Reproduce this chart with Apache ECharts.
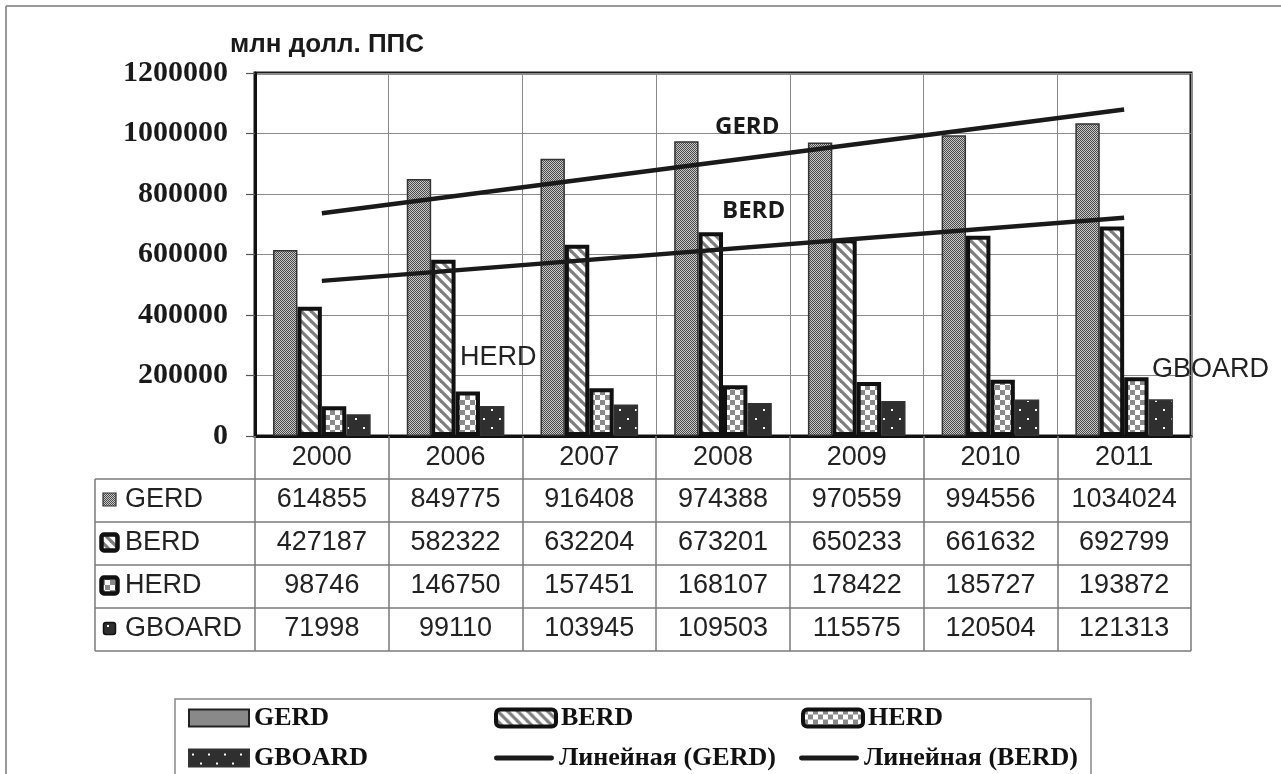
<!DOCTYPE html>
<html><head><meta charset="utf-8">
<script src="https://cdn.jsdelivr.net/npm/echarts@6/dist/echarts.min.js"></script>
<style>html,body{margin:0;padding:0;background:#fff}#c{width:1281px;height:774px}</style>
</head><body><div id="c"></div>
<script>
// ---- data ----
const categories = ['2000','2006','2007','2008','2009','2010','2011'];
const gerd   = [614855, 849775, 916408, 974388, 970559, 994556, 1034024];
const berd   = [427187, 582322, 632204, 673201, 650233, 661632, 692799];
const herd   = [98746, 146750, 157451, 168107, 178422, 185727, 193872];
const gboard = [71998, 99110, 103945, 109503, 115575, 120504, 121313];
// linear trend lines: endpoints
const gerdTrend = [736200, null, null, null, null, null, 1079400];
const berdTrend = [512800, null, null, null, null, null, 721400];
const barNames = ['GERD','BERD','HERD','GBOARD'];
const trendNames = ['Линейная (GERD)','Линейная (BERD)'];
const yUnit = 'млн долл. ППС';

// ---- patterns ----
function makeCanvas(w,h,draw){const c=document.createElement('canvas');c.width=w;c.height=h;draw(c.getContext('2d'));return c;}
const patGerd = makeCanvas(2,2,g=>{g.fillStyle='#c8c8c8';g.fillRect(0,0,2,2);g.fillStyle='#4a4a4a';g.fillRect(0,0,1,1);g.fillRect(1,1,1,1);});
const patBerd = makeCanvas(10,10,g=>{g.fillStyle='#fff';g.fillRect(0,0,10,10);g.strokeStyle='#7e7e7e';g.lineWidth=3.2;
  for(let k=-10;k<=10;k+=10){g.beginPath();g.moveTo(k-2,-2);g.lineTo(k+12,12);g.stroke();}});
const patHerd = makeCanvas(10,10,g=>{g.fillStyle='#fff';g.fillRect(0,0,10,10);g.fillStyle='#8a8a8a';g.fillRect(0,0,5,5);g.fillRect(5,5,5,5);});
const patGboard = makeCanvas(16,18,g=>{g.fillStyle='#2f2f2f';g.fillRect(0,0,16,18);g.fillStyle='#fff';g.fillRect(3,4,2,2);g.fillRect(11,13,2,2);});
const P = c => ({image:c, repeat:'repeat'});
const fills = [P(patGerd), P(patBerd), P(patHerd), P(patGboard)];
const borders = [['#333',1.5],['#111',4],['#111',4],['#333',1.5]];
const barData = [gerd, berd, herd, gboard];

const chart = echarts.init(document.getElementById('c'), null, {renderer:'canvas'});
const sans = '"Liberation Sans", Arial, sans-serif';
const serif = '"Liberation Serif", "Times New Roman", serif';

const series = barNames.map((n,i)=>({
  type:'bar', name:n, data:barData[i], barGap:'0%', barCategoryGap:'27%',
  itemStyle:{color:fills[i], borderColor:borders[i][0], borderWidth:borders[i][1]},
  emphasis:{disabled:true}, z:2
}));
[gerdTrend, berdTrend].forEach((d,i)=>series.push({
  type:'line', name:trendNames[i], data:d, connectNulls:true, symbol:'none',
  lineStyle:{color:'#1a1a1a', width:4.5}, itemStyle:{color:'#1a1a1a'}, z:5
}));

const lineIcon = 'path://M2,0H58A2.5,2.5 0 0 1 58,5H2A2.5,2.5 0 0 1 2,0Z';
const option = {
  animation:false,
  backgroundColor:'#fff',
  grid:{left:255, right:90, top:73, bottom:338, show:true, borderColor:'#1a1a1a', borderWidth:3},
  xAxis:{type:'category', data:categories,
    axisLine:{lineStyle:{color:'#111', width:3}},
    axisTick:{show:true, interval:0, length:215, lineStyle:{color:'#7a7a7a', width:1.5}},
    axisLabel:{interval:0, fontSize:27, fontFamily:sans, color:'#222', margin:8},
    splitLine:{show:true, interval:0, lineStyle:{color:'#8a8a8a', width:1}}},
  yAxis:{type:'value', min:0, max:1200000, interval:200000,
    axisLine:{show:true, lineStyle:{color:'#111', width:3}},
    axisTick:{show:true, length:9, lineStyle:{color:'#555', width:1.2}},
    axisLabel:{fontSize:30, fontFamily:serif, fontWeight:'bold', color:'#1a1a1a', margin:27, formatter:v=>String(v)},
    splitLine:{show:true, lineStyle:{color:'#8a8a8a', width:1}}},
  legend:{data:[
      {name:'GERD', icon:'rect', itemStyle:{borderColor:'#222', borderWidth:2}},
      {name:'BERD', itemStyle:{borderColor:'#111', borderWidth:4}},
      {name:'HERD', itemStyle:{borderColor:'#111', borderWidth:4}},
      {name:'GBOARD', icon:'rect'},
      {name:trendNames[0], icon:lineIcon},
      {name:trendNames[1], icon:lineIcon}],
    left:188, top:698, width:930, orient:'horizontal', padding:0,
    itemWidth:60, itemHeight:17, itemGap:0, selectedMode:false,
    textStyle:{fontFamily:serif, fontWeight:'bold', fontSize:26, color:'#111', width:240, lineHeight:40}},
  series
};
chart.setOption(option);

// ---- graphics: frame, titles, annotations, data table ----
const g = [];
const lineStyle = {stroke:'#7a7a7a', lineWidth:1.5};
g.push({type:'line', shape:{x1:6,y1:6,x2:1281,y2:6}, style:{stroke:'#777',lineWidth:1.5}});
g.push({type:'line', shape:{x1:6,y1:6,x2:6,y2:774}, style:{stroke:'#777',lineWidth:1.5}});
function txt(text,x,y,font,align,fill){return {type:'text', x, y, silent:true,
  style:{text, font, fill:fill||'#1a1a1a', align:align||'left', textAlign:align||'left', verticalAlign:'middle', textVerticalAlign:'middle'}};}
g.push(txt(yUnit, 230, 45, 'bold 26px '+sans));
g.push(txt('GERD', 715, 127, 'bold 24px "Open Sans", sans-serif'));
g.push(txt('BERD', 722, 211, 'bold 24px "Open Sans", sans-serif'));
g.push(txt('HERD', 460, 358, '27px '+sans, 'left', '#222'));
g.push(txt('GBOARD', 1152, 370, '27px '+sans, 'left', '#222'));

const rowTop = 479, rowH = 43, tLeft = 95;
for (let r=0;r<=barNames.length;r++){const y=rowTop+r*rowH; g.push({type:'line', shape:{x1:tLeft,y1:y,x2:1191,y2:y}, style:lineStyle});}
g.push({type:'line', shape:{x1:tLeft,y1:rowTop,x2:tLeft,y2:rowTop+barNames.length*rowH}, style:lineStyle});
barData.forEach((arr,r)=>{
  const cy = rowTop + r*rowH + rowH/2 - 1;
  arr.forEach((v,i)=>{
    const x = chart.convertToPixel({xAxisIndex:0}, categories[i]);
    g.push(txt(String(v), x, cy, '27px '+sans, 'center', '#222'));
  });
  // row key
  const sz = r===3 ? 12 : (r===0 ? 13 : 16);
  g.push({type:'rect', shape:{x:103 - (sz-13)/2, y:cy-sz/2, width:sz, height:sz, r: r===0?0:2.5},
    style:{fill:fills[r], stroke:r===0?'#333':'#111', lineWidth:r===0?1.2:(r===3?1.5:4.5)}});
  g.push(txt(barNames[r], 125, cy, '27px '+sans, 'left', '#222'));
});
g.push({type:'rect', shape:{x:175, y:699, width:916, height:120}, style:{fill:'none', stroke:'#888', lineWidth:1.5}, z:-1});
chart.setOption({graphic:g});
</script></body></html>
